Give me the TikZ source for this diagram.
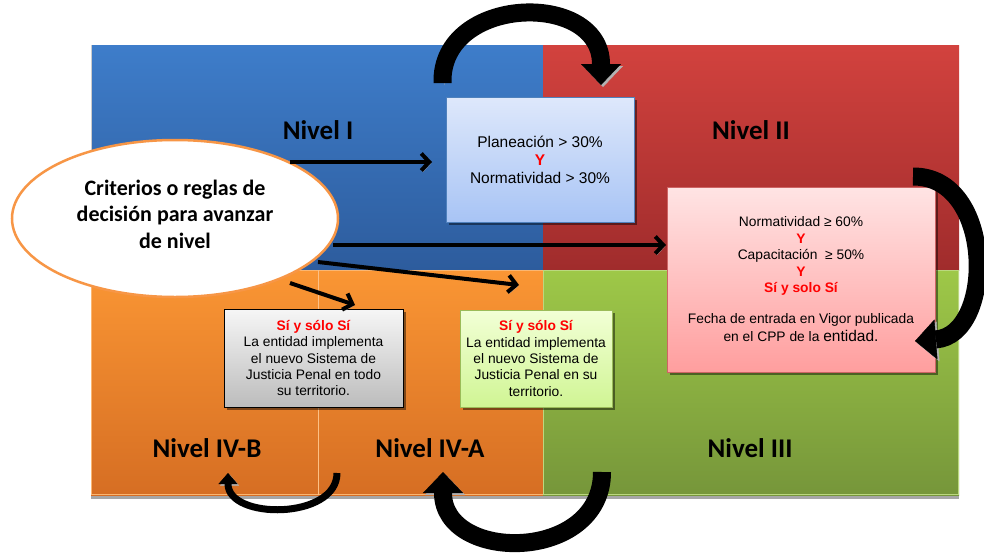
\documentclass[tikz,border=0pt]{standalone}
\usepackage{fontspec}
\setmainfont{Liberation Sans}
\newfontfamily\calib{Carlito}
\usetikzlibrary{arrows.meta,shadows,shapes.geometric}
\definecolor{blueT}{RGB}{62,125,202}
\definecolor{blueB}{RGB}{45,92,157}
\definecolor{redT}{RGB}{210,66,62}
\definecolor{redB}{RGB}{160,44,44}
\definecolor{oraT}{RGB}{250,150,52}
\definecolor{oraB}{RGB}{214,110,35}
\definecolor{greT}{RGB}{158,200,72}
\definecolor{greB}{RGB}{118,150,58}
\definecolor{ellline}{RGB}{247,150,70}
\definecolor{txtred}{RGB}{255,0,0}
\begin{document}
\begin{tikzpicture}[x=1pt,y=-1pt,
  lvl/.style={font=\calib\bfseries\fontsize{27}{30}\selectfont, inner sep=0pt},
  boxshadow/.style={drop shadow={shadow xshift=2.5pt,shadow yshift=-2.5pt,fill=black,opacity=.45}},
  critbox/.style={rectangle, align=center, inner sep=0pt, boxshadow},
  sarrow/.style={line width=4pt, -{Straight Barb[length=8pt,width=17pt]},
    preaction={draw=black!35, transform canvas={shift={(1.5pt,-1.5pt)}}}},
  bigarrow/.style={line width=18pt, -{Triangle[length=21pt,width=40pt,line width=0.4pt]},
    preaction={draw=black!30, transform canvas={shift={(2pt,-2pt)}}}},
  smallarrow/.style={line width=7pt, -{Triangle[length=11pt,width=19pt,line width=0.4pt]},
    preaction={draw=black!30, transform canvas={shift={(1.5pt,-1.5pt)}}}}
]
\useasboundingbox (0,0) rectangle (984,552);
% overall shadow under the quadrants
\fill[black!35] (91,494) rectangle (959,498.5);
% quadrants
\shade[top color=blueT, bottom color=blueB] (91,45) rectangle (543,270);
\shade[top color=redT, bottom color=redB] (543,45) rectangle (959,270);
\shade[top color=oraT, bottom color=oraB] (91,270) rectangle (543,495);
\shade[top color=greT, bottom color=greB] (543,270) rectangle (959,495);
\draw[black!20, line width=0.8pt] (91.4,45) -- (91.4,270);
\draw[oraT!70!white, line width=0.8pt] (91.4,270) rectangle (543,494.6);
\draw[greT!70!white, line width=0.8pt] (543,270) rectangle (958.6,494.6);
\draw[oraT!60!white, line width=0.8pt] (318,270) -- (318,495);
% level labels
\node[lvl] (n1) at (318,130) {Nivel I};
\node[lvl] (n2) at (751,130) {Nivel II};
\node[lvl] (n3) at (750,448) {Nivel III};
\node[lvl] (n4b) at (207,448) {Nivel IV-B};
\node[lvl] (n4a) at (430,448) {Nivel IV-A};
% criteria boxes
\node[critbox, draw={rgb,255:red,79;green,129;blue,189}, line width=0.8pt,
  top color={rgb,255:red,222;green,232;blue,251}, bottom color={rgb,255:red,168;green,196;blue,245},
  minimum width=188pt, minimum height=125pt,
  font=\fontsize{15.5}{18}\selectfont] (blue) at (540,159.5)
  {Planeación > 30\%\\{\color{txtred}\bfseries Y}\\Normatividad > 30\%};
\node[critbox, draw={rgb,255:red,205;green,100;blue,100}, line width=0.8pt,
  top color={rgb,255:red,255;green,228;blue,228}, bottom color={rgb,255:red,255;green,158;blue,158},
  minimum width=268pt, minimum height=185pt,
  font=\fontsize{13.8}{16.5}\selectfont] (pink) at (801,279.5)
  {Normatividad ≥ 60\%\\{\color{txtred}\bfseries Y}\\Capacitación~ ≥ 50\%\\{\color{txtred}\bfseries Y}\\{\color{txtred}\bfseries Sí y solo Sí}\\[14pt]Fecha de entrada en Vigor publicada\\[2pt]en el CPP de la {\fontsize{15.5}{18}\selectfont entidad.}};
\node[critbox, draw=black, line width=0.8pt,
  top color={rgb,255:red,246;green,246;blue,246}, bottom color={rgb,255:red,188;green,188;blue,188},
  minimum width=179pt, minimum height=98pt,
  font=\fontsize{13.8}{16.3}\selectfont] (gray) at (313.5,358)
  {{\color{txtred}\bfseries Sí y sólo Sí}\\La entidad implementa\\el nuevo Sistema de\\Justicia Penal en todo\\su territorio.};
\node[critbox, draw={rgb,255:red,155;green,187;blue,89}, line width=0.8pt,
  top color={rgb,255:red,242;green,255;blue,214}, bottom color={rgb,255:red,208;green,245;blue,148},
  minimum width=152pt, minimum height=97pt,
  font=\fontsize{13.8}{16.3}\selectfont] (green) at (536,358.5)
  {{\color{txtred}\bfseries Sí y sólo Sí}\\La entidad implementa\\el nuevo Sistema de\\Justicia Penal en su\\territorio.};
% ellipse
\node[ellipse, draw=ellline, line width=2.5pt, fill=white, minimum width=326pt, minimum height=157pt, inner sep=0pt] (ell) at (175,218.5) {};
\node[font=\calib\bfseries\fontsize{22}{26.5}\selectfont, align=center, inner sep=0pt] (elltxt) at (175,214)
  {Criterios o reglas de\\decisión para avanzar\\de nivel};
% straight arrows
\coordinate (s1) at (290,162); \coordinate (e1) at (432,162);
\coordinate (s2) at (333,245); \coordinate (e2) at (666,245);
\coordinate (s3) at (318,262); \coordinate (e3) at (519,285);
\coordinate (s4) at (290,283); \coordinate (e4) at (355,305);
\draw[sarrow] (s1) -- (e1);
\draw[sarrow] (s2) -- (e2);
\draw[sarrow] (s3) -- (e3);
\draw[sarrow] (s4) -- (e4);
% curved block arrows
\coordinate (c1s) at (442.5,83); \coordinate (c1e) at (601,85);
\coordinate (c2s) at (913,176.5); \coordinate (c2e) at (915,341);
\coordinate (c3s) at (602,472); \coordinate (c3e) at (443,472);
\coordinate (c4s) at (337,473); \coordinate (c4e) at (228,473);
\draw[bigarrow] (c1s) .. controls (440,-5) and (601,-10) .. (c1e);
\draw[bigarrow] (c2s) .. controls (995,176) and (995,335) .. (c2e);
\draw[bigarrow] (c3s) .. controls (602,563) and (443,563) .. (c3e);
\draw[smallarrow] (c4s) .. controls (337,520) and (228,520) .. (c4e);
\end{tikzpicture}
\end{document}
